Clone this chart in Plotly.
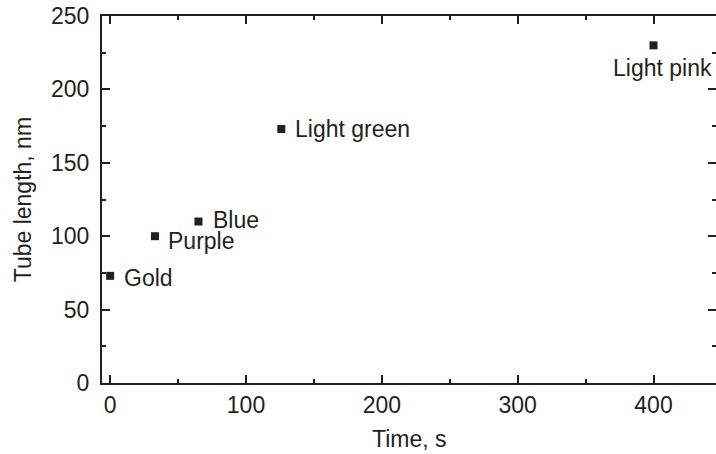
import plotly.graph_objects as go

labels = ["Gold", "Purple", "Blue", "Light green", "Light pink"]
time_s = [0, 33, 65, 126, 400]
length_nm = [73, 100, 110, 173, 230]

# label offsets (px) relative to the marker
label_xshift = [12, 11, 13, 12, 9]
label_yshift = [-2, -5, 2, 0, -23]
label_xanchor = ["left", "left", "left", "left", "center"]

FONT = "Liberation Sans, Arial, sans-serif"
INK = "#231f20"
FS = 23

fig = go.Figure()
fig.add_trace(go.Scatter(
    x=time_s, y=length_nm, mode="markers",
    marker=dict(symbol="square", size=8, color=INK, line=dict(width=0)),
    showlegend=False, hoverinfo="skip",
))
# invisible trace to carry the right-side tick axis
fig.add_trace(go.Scatter(x=[time_s[0]], y=[length_nm[0]], yaxis="y2",
                         mode="markers", marker=dict(opacity=0),
                         showlegend=False, hoverinfo="skip"))

for lab, xv, yv, xs, ys, xa in zip(labels, time_s, length_nm,
                                    label_xshift, label_yshift, label_xanchor):
    fig.add_annotation(x=xv, y=yv, text=lab, showarrow=False,
                       xanchor=xa, yanchor="middle", xshift=xs, yshift=ys,
                       font=dict(family=FONT, size=FS, color=INK))

# axis titles
fig.add_annotation(x=0.5, y=-0.153, xref="paper", yref="paper",
                   text="Time, s", showarrow=False,
                   xanchor="center", yanchor="middle",
                   font=dict(family=FONT, size=FS, color=INK))
fig.add_annotation(x=-0.129, y=0.5, xref="paper", yref="paper",
                   text="Tube length, nm", showarrow=False, textangle=-90,
                   xanchor="center", yanchor="middle",
                   font=dict(family=FONT, size=FS, color=INK))

axis_common = dict(
    ticks="inside", tickcolor=INK, tickwidth=1.5,
    showgrid=False, zeroline=False,
    linecolor=INK, linewidth=2, showline=True,
    tickfont=dict(family=FONT, size=FS, color=INK),
)

fig.update_layout(
    width=716, height=454,
    margin=dict(l=102, r=0, t=16, b=71),
    plot_bgcolor="white", paper_bgcolor="white",
    xaxis=dict(
        range=[-6, 446], tickmode="linear", tick0=0, dtick=100, ticklen=8,
        mirror="ticks",
        minor=dict(ticks="inside", ticklen=4, dtick=50, tick0=0,
                   tickcolor=INK, tickwidth=1.5),
        **axis_common,
    ),
    yaxis=dict(
        range=[0, 250], tickmode="linear", tick0=0, dtick=50, ticklen=8,
        mirror=False, ticklabelstandoff=6,
        minor=dict(ticks="inside", ticklen=4, dtick=25, tick0=0,
                   tickcolor=INK, tickwidth=1.5),
        **axis_common,
    ),
    yaxis2=dict(
        overlaying="y", side="right", matches="y", range=[0, 250],
        tickmode="linear", tick0=0, dtick=50, ticks="inside", ticklen=8,
        tickcolor=INK, tickwidth=1.5, showticklabels=False,
        showline=False, showgrid=False, zeroline=False,
        minor=dict(ticks="inside", ticklen=4, dtick=25, tick0=0,
                   tickcolor=INK, tickwidth=1.5),
    ),
)

fig.write_html(
    "out.html",
    config={"displayModeBar": False},
    post_script="document.body.style.margin='0';"
                "document.body.style.overflow='hidden';",
)
